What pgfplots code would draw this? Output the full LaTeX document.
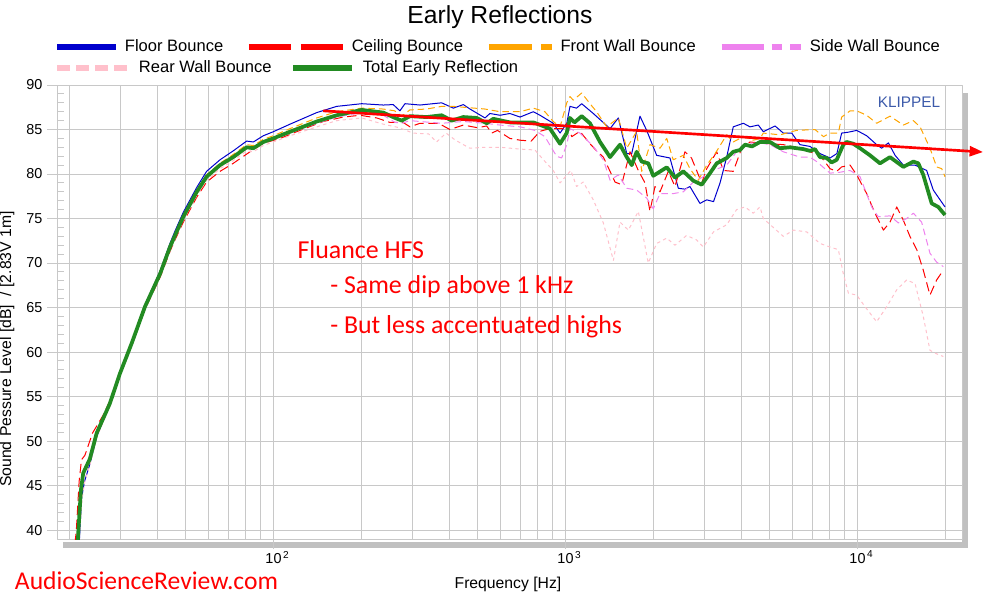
\documentclass[border=0pt]{standalone}
\usepackage{pgfplots}
\pgfplotsset{compat=1.18}
\usepackage{fontspec}
\setmainfont{Liberation Sans}
\newfontfamily\calibri{Carlito}
\usetikzlibrary{arrows.meta}
\definecolor{gridc}{RGB}{200,200,200}
\definecolor{floorc}{RGB}{0,0,205}
\definecolor{ceilc}{RGB}{255,0,0}
\definecolor{frontc}{RGB}{255,165,0}
\definecolor{sidec}{RGB}{238,130,238}
\definecolor{rearc}{RGB}{255,192,203}
\definecolor{totalc}{RGB}{34,139,34}
\definecolor{klipc}{RGB}{60,90,170}
\definecolor{shadc}{RGB}{192,192,192}
\begin{document}
\begin{tikzpicture}
\path[use as bounding box] (0,0) rectangle (750pt,450pt);
% drop shadow of the plot frame
\fill[shadc] (721.5pt,39pt) rectangle (726pt,380.25pt);
\fill[shadc] (47.25pt,39pt) rectangle (726pt,43.5pt);
\begin{axis}[
  at={(42.75pt,45.75pt)}, anchor=south west,
  scale only axis, width=678.75pt, height=340.5pt,
  xmode=log, xmin=18.14, xmax=22800, ymin=39, ymax=90,
  xtick={100,1000,10000},
  xticklabels={10\rlap{\textsuperscript{\,2}},10\rlap{\textsuperscript{\,3}},10\rlap{\textsuperscript{\,4}}},
  minor xtick={20,30,40,50,60,70,80,90,200,300,400,500,600,700,800,900,2000,3000,4000,5000,6000,7000,8000,9000,20000},
  ytick={40,45,50,55,60,65,70,75,80,85,90},
  yticklabels={40,45,50,55,60,65,70,75,80,85,90},
  minor y tick num=4,
  xmajorgrids, xminorgrids, ymajorgrids,
  major grid style={gridc, line width=0.75pt},
  minor grid style={gridc, line width=0.75pt},
  axis line style={gridc, line width=0.75pt},
  tick style={gridc, line width=0.75pt},
  tick align=outside, tick pos=left,
  major tick length=7.5pt, minor tick length=5pt,
  minor y tick style={xshift=5pt},
  minor x tick style={yshift=5pt},
  ticklabel style={font=\fontsize{10.8}{12}\selectfont},
  xticklabel style={yshift=2pt},
  xlabel={Frequency [Hz]},
  ylabel={Sound Pessure Level [dB] \ / [2.83V 1m]},
  xlabel style={at={(axis description cs:0.4983,-0.1101)}, anchor=base, font=\fontsize{11.8}{13}\selectfont},
  ylabel style={at={(axis description cs:-0.0553,0.4185)}, anchor=center, font=\fontsize{11.8}{13}\selectfont},
  no markers, line join=round,
  legend columns=4,
  legend style={at={(-0.0033,1.0837)}, anchor=west, draw=none, fill=none, inner sep=0pt,
    nodes={inner xsep=0pt, inner ysep=1pt},
    font=\fontsize{12.4}{14}\selectfont,
    /tikz/every odd column/.append style={column sep=4.5pt},
    /tikz/every even column/.append style={column sep=17pt}},
]
% Floor Bounce
\addplot[floorc, line width=0.75pt,
  legend image code/.code={\draw[floorc, line width=4.5pt] (0pt,0pt) -- (44pt,0pt);}] coordinates {
(21.5,37) (22.0,43.5) (22.5,45.4) (23.5,47.4) (24.8,50.5) (27.5,54.1) (29.8,57.6) (32.7,61.1) (36.3,65.3) (40.9,69.1) (44.2,72.2) (46.0,73.6) (49.1,75.7) (54.6,78.5) (59.0,80.3) (65.6,81.6) (72.8,82.6) (80.9,83.7) (85.3,83.6) (92.3,84.3) (99.8,84.75) (113.9,85.6) (140.6,86.9) (164.6,87.6) (200.5,87.9) (237.7,87.75) (257,87.8) (271,87.1) (282,87.9) (317.5,87.75) (376.7,88.0) (412.9,87.4) (446.7,87.8) (470.9,87.3) (530,86.3) (551,86.8) (597,86.6) (645,86.8) (699,86.4) (776,87.0) (818,86.6) (908,85.7) (958,84.6) (1010,85.7) (1036,87.6) (1091,87.4) (1136,87.9) (1245,86.8) (1421,85.1) (1517,86.3) (1621,82.3) (1686,82.3) (1799,86.5) (1897,84.9) (2052,82.1) (2279,81.8) (2435,78.4) (2565,78.3) (2667,78.6) (2887,76.7) (3046,77.1) (3213,76.9) (3383,79.0) (3565,81.9) (3755,85.3) (4065,85.7) (4282,85.3) (4574,85.5) (4758,84.75) (5219,85.4) (5570,84.6) (5952,84.6) (6356,83.3) (6877,83.1) (7439,82.3) (8053,81.8) (8500,82.3) (8826,84.6) (9300,84.7) (9939,84.9) (10750,84.3) (11630,83.3) (12100,82.9) (12760,83.5) (13450,82.1) (14356,81.0) (15740,81.0) (17250,80.4) (18180,78.2) (19940,76.3)
};
% Ceiling Bounce
\addplot[ceilc, line width=0.75pt, dash pattern=on 7pt off 3.5pt,
  legend image code/.code={\draw[ceilc, line width=4.5pt, dash pattern=on 31.5pt off 7.5pt] (0pt,0pt) -- (70.5pt,0pt);}] coordinates {
(20.6,37) (21.1,39.7) (21.6,45.5) (22.0,47.9) (22.6,48.4) (24.0,50.9) (26.1,52.9) (27.5,54.5) (29.8,57.6) (32.7,60.8) (36.3,64.8) (40.9,68.4) (44.2,71.3) (46.0,72.6) (49.1,74.6) (54.6,77.4) (59.0,79.1) (65.6,80.3) (72.8,81.2) (83.1,82.5) (92.3,83.45) (105.3,84.0) (123.2,84.9) (148,85.9) (173.4,86.4) (198,86.6) (225.7,86.3) (250.4,85.8) (277.8,85.8) (293.4,85.3) (317.5,85.7) (367,85.7) (402,85.0) (447,85.5) (500,85.2) (537,85.4) (559,84.6) (585,84.9) (645,84.0) (699,83.8) (763,83.7) (818,84.8) (885,85.1) (983,85.1) (1010,85.7) (1051,84.2) (1120,84.8) (1213,83.4) (1278,82.6) (1348,81.9) (1478,79.1) (1557,78.8) (1663,82.5) (1776,80.4) (1872,79.0) (1947,75.8) (2025,78.6) (2107,78.0) (2250,80.3) (2371,78.6) (2565,82.5) (2701,81.8) (2927,79.0) (3046,80.6) (3295,82.5) (3474,80.4) (3755,80.3) (4012,82.9) (4173,83.3) (4282,83.6) (4758,83.45) (5570,83.3) (6356,82.9) (7439,82.1) (8053,80.6) (8489,80.3) (8826,80.8) (9433,81.0) (9939,79.9) (10750,77.8) (11480,75.6) (12270,73.7) (12922,74.6) (13630,76.3) (14356,74.8) (15120,73.0) (15960,71.5) (16800,69.2) (17710,66.4) (18670,68.1) (19680,69.2)
};
% Front Wall Bounce
\addplot[frontc, line width=0.75pt, dash pattern=on 5pt off 3pt,
  legend image code/.code={\draw[frontc, line width=4.5pt, dash pattern=on 32pt off 7pt on 8pt off 7pt] (0pt,0pt) -- (47pt,0pt);}] coordinates {
(21.4,37) (22.0,44.8) (22.4,46.8) (23.5,48.2) (24.8,51.0) (27.5,54.3) (29.8,57.7) (32.7,61.1) (36.3,65.2) (40.9,68.9) (44.2,72.0) (46.0,73.3) (49.1,75.4) (54.6,78.2) (59.0,79.9) (65.6,81.2) (72.8,82.2) (80.9,83.3) (85.3,83.2) (92.3,83.9) (99.8,84.3) (113.9,85.1) (140.6,86.3) (164.6,87.0) (200.5,87.4) (237.7,87.3) (260,87.1) (275,86.5) (293,87.2) (334.6,87.3) (376.7,87.6) (412.9,87.6) (530,87.3) (597,87.0) (699,87.0) (776,87.4) (850,87.0) (908,85.9) (958,85.3) (1010,88.0) (1036,88.7) (1063,88.3) (1136,89.1) (1213,87.9) (1278,87.0) (1384,85.3) (1517,86.3) (1621,82.9) (1753,84.8) (1824,80.3) (1947,83.3) (2107,82.9) (2222,84.0) (2338,81.6) (2532,82.1) (2667,80.6) (2849,79.3) (3046,81.0) (3255,82.3) (3565,84.4) (3755,83.6) (4065,84.2) (4395,83.8) (4636,84.0) (4758,84.6) (5428,84.4) (6185,84.9) (7153,85.0) (7650,84.2) (8053,84.6) (8598,84.6) (8826,86.4) (9433,87.1) (9939,87.1) (10750,86.6) (11630,85.7) (12922,86.5) (14356,85.5) (15533,86.0) (16380,85.3) (17710,82.9) (18670,80.8) (19430,80.6) (19940,79.7)
};
% Side Wall Bounce
\addplot[sidec, line width=0.75pt, dash pattern=on 5pt off 3pt,
  legend image code/.code={\draw[sidec, line width=4.5pt, dash pattern=on 31.5pt off 6pt on 8pt off 6pt] (0pt,0pt) -- (59.5pt,0pt);}] coordinates {
(21.3,37) (22.0,44.6) (22.4,46.4) (23.5,47.9) (24.8,50.8) (27.5,54.1) (29.8,57.5) (32.7,60.9) (36.3,65.0) (40.9,68.7) (44.2,71.7) (46.0,73.0) (49.1,75.1) (54.6,77.9) (59.0,79.6) (65.6,80.9) (72.8,81.8) (80.9,82.9) (85.3,82.8) (92.3,83.5) (99.8,83.9) (113.9,84.6) (140.6,85.7) (164.6,86.4) (200.5,86.9) (237.7,86.6) (260.7,85.8) (274.8,85.7) (293.4,86.0) (317.5,85.9) (376.7,85.7) (446.7,85.9) (530,85.7) (597,85.5) (699,85.3) (786,84.9) (850,84.2) (932,82.0) (970,81.8) (1010,83.3) (1036,85.1) (1120,84.6) (1245,83.1) (1348,81.6) (1421,79.3) (1517,79.9) (1621,78.4) (1753,78.2) (1897,77.3) (1998,76.1) (2107,77.8) (2338,77.8) (2532,78.0) (2740,79.1) (2965,79.7) (3213,80.4) (3565,81.0) (3854,82.5) (4173,83.3) (4282,83.45) (4636,83.5) (5016,83.3) (5570,82.5) (6356,81.9) (6877,81.9) (7245,81.4) (8053,80.1) (8710,80.2) (9433,80.4) (10200,79.7) (11183,76.3) (11780,75.2) (12922,75.3) (13810,74.5) (14730,75.0) (15533,75.6) (16580,74.6) (17710,71.1) (18670,70.1) (19680,69.6)
};
% Rear Wall Bounce
\addplot[rearc, line width=0.75pt, dash pattern=on 2.5pt off 2.5pt] coordinates {
(21.4,37) (22.1,43.5) (22.6,45.5) (23.5,47.3) (24.8,50.4) (27.5,53.9) (29.8,57.3) (32.7,60.7) (36.3,64.8) (40.9,68.5) (44.2,71.4) (46.0,72.7) (49.1,74.8) (54.6,77.6) (59.0,79.3) (65.6,80.6) (72.8,81.5) (80.9,82.6) (85.3,82.5) (92.3,83.2) (99.8,83.6) (113.9,84.3) (140.6,85.3) (164.6,86.0) (200.5,86.3) (237.7,85.6) (270,85.2) (300,84.6) (340,84.5) (362,83.6) (390,84.6) (420,83.8) (470,82.9) (530,83.0) (600,83.0) (700,82.8) (786,82.7) (840,81.6) (908,80.4) (958,79.0) (1043,80.4) (1091,78.6) (1150,79.1) (1245,77.1) (1348,74.5) (1459,70.3) (1537,74.6) (1642,73.7) (1776,75.8) (1921,70.0) (2052,72.2) (2222,72.8) (2371,72.0) (2598,73.1) (2810,72.6) (2965,71.8) (3213,73.5) (3565,74.3) (3854,76.0) (4118,76.3) (4395,75.6) (4636,76.3) (4758,75.0) (5570,73.0) (6040,73.7) (6700,73.5) (7439,72.2) (8053,71.8) (8598,71.5) (8941,68.8) (9309,66.6) (9939,66.4) (10610,65.1) (11630,63.4) (12590,65.1) (13630,67.0) (14730,68.1) (15740,67.7) (16800,64.0) (17710,60.2) (18670,59.8) (19680,59.5)
};
% Total Early Reflection
\addplot[totalc, line width=2.8pt] coordinates {
(21.2,37) (21.9,44.5) (22.3,46.4) (23.5,48.0) (24.8,50.9) (27.5,54.2) (29.8,57.6) (32.7,61.0) (36.3,65.1) (40.9,68.8) (44.2,71.8) (46.0,73.1) (49.1,75.2) (54.6,78.0) (59.0,79.7) (65.6,81.0) (72.8,81.9) (80.9,83.0) (85.3,82.9) (92.3,83.6) (99.8,84.0) (113.9,84.75) (140.6,85.9) (164.6,86.6) (200.5,87.2) (237.7,86.9) (260.7,86.3) (274.8,86.0) (293.4,86.5) (334.6,86.4) (376.7,86.6) (407.6,86.0) (446.7,86.4) (496.6,86.3) (537.3,85.7) (566,86.2) (645.4,85.8) (775.7,85.8) (884.9,85.1) (957.7,83.4) (1009.5,84.6) (1036,86.3) (1073.6,85.8) (1136.5,86.5) (1213,85.7) (1313,83.6) (1421,81.9) (1537,83.3) (1621,81.9) (1686,81.0) (1753,82.5) (1824,81.4) (1921,81.2) (1998,79.8) (2222,80.75) (2371,79.6) (2532,80.3) (2740,79.25) (2927,78.8) (3126,80.1) (3295,81.2) (3565,81.8) (3755,82.5) (3959,82.7) (4118,83.3) (4352,83.1) (4636,83.6) (5016,83.6) (5428,82.9) (5873,83.0) (6523,82.8) (6877,82.6) (7153,82.8) (7439,81.9) (7843,81.8) (8156,81.3) (8489,81.6) (8941,83.3) (9184,83.6) (9674,83.4) (10200,82.9) (11036,82.1) (11941,81.2) (12922,81.9) (14356,80.8) (15533,81.4) (16160,81.2) (16800,79.9) (17950,76.7) (18910,76.3) (19940,75.4)
};
\legend{Floor Bounce,Ceiling Bounce,Front Wall Bounce,Side Wall Bounce}
\coordinate (arrA) at (axis cs:148,87.1);
\coordinate (arrB) at (axis cs:26900,82.47);
\end{axis}
% second legend row
\begin{axis}[
  at={(42.75pt,45.75pt)}, anchor=south west,
  scale only axis, width=678.75pt, height=340.5pt,
  hide axis, xmin=0, xmax=1, ymin=0, ymax=1,
  legend columns=2,
  legend style={at={(-0.0033,1.0374)}, anchor=west, draw=none, fill=none, inner sep=0pt,
    nodes={inner xsep=0pt, inner ysep=1pt},
    font=\fontsize{12.4}{14}\selectfont,
    /tikz/every odd column/.append style={column sep=6pt},
    /tikz/every even column/.append style={column sep=14pt}},
]
\addlegendimage{rearc, legend image code/.code={\draw[rearc, line width=4.5pt, dash pattern=on 9.75pt off 4.5pt] (0pt,0pt) -- (53pt,0pt);}}
\addlegendentry{Rear Wall Bounce}
\addlegendimage{totalc, legend image code/.code={\draw[totalc, line width=4.5pt] (0pt,0pt) -- (44pt,0pt);}}
\addlegendentry{Total Early Reflection}
\end{axis}
\draw[ceilc, line width=2pt, -{Triangle[length=10pt,width=7.5pt]}] (arrA) -- (arrB);
\node[font=\fontsize{18.5}{20}\selectfont, anchor=base] at (375pt,432pt) {Early Reflections};
\node[font=\fontsize{11.5}{13}\selectfont, text=klipc, anchor=center] at (681.75pt,373.5pt) {KLIPPEL};
\node[font=\calibri\fontsize{19.4}{22}\selectfont, text=ceilc, anchor=base west, inner sep=0pt] at (223pt,256pt) {Fluance HFS};
\node[font=\calibri\fontsize{19.4}{22}\selectfont, text=ceilc, anchor=base west, inner sep=0pt] at (247.5pt,229.5pt) {- Same dip above 1 kHz};
\node[font=\calibri\fontsize{19.4}{22}\selectfont, text=ceilc, anchor=base west, inner sep=0pt] at (247.5pt,200pt) {- But less accentuated highs};
\node[font=\calibri\fontsize{19.2}{22}\selectfont, text=ceilc, anchor=base west, inner sep=0pt] at (11pt,7.5pt) {AudioScienceReview.com};
\end{tikzpicture}
\end{document}
